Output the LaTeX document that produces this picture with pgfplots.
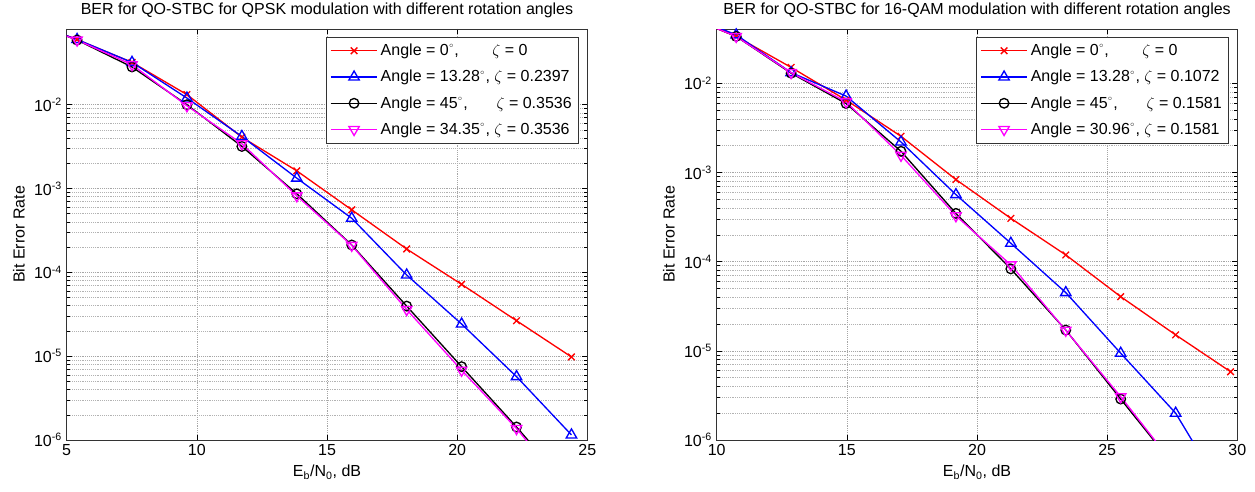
\documentclass[border=0pt]{standalone}
\usepackage{pgfplots}
\pgfplotsset{compat=1.18}
\usepackage{fontspec}
\setmainfont{Liberation Sans}

\pgfplotstableread{
x      red      blue     black    pink
3.29   0.105    0.105    0.105    0.105
5.40   0.0598   0.0600   0.0590   0.0590
7.51   0.0320   0.0320   0.0282   0.0300
9.62   0.0132   0.0120   0.0100   0.0097
11.73  0.0041   0.00418  0.00318  0.00342
13.84  0.001625 0.00133  0.000865 0.000818
15.95  0.000557 0.000442 0.000212 0.000210
18.06  0.00019  9.3e-5   3.96e-5  3.6e-5
20.17  7.2e-5   2.42e-5  7.5e-6   6.8e-6
22.28  2.65e-5  5.7e-6   1.43e-6  1.37e-6
24.39  9.8e-6   1.15e-6  2.5e-7   2.2e-7
}\qpsk

\pgfplotstableread{
x      red      blue     black    pink
8.64   0.060    0.062    0.060    0.060
10.75  0.0336   0.0350   0.0336   0.0336
12.86  0.0151   0.0132   0.0130   0.0132
14.97  0.0065   0.0072   0.00594  0.0062
17.08  0.00255  0.0022   0.00173  0.00156
19.19  0.000834 0.000565 0.000348 0.000327
21.30  0.000306 0.000161 8.3e-5   9.2e-5
23.41  1.19e-4  4.5e-5   1.71e-5  1.7e-5
25.52  4.05e-5  9.4e-6   2.88e-6  3.06e-6
27.63  1.51e-5  2.0e-6   4.9e-7   5.0e-7
29.74  5.83e-6  1.9e-7   8e-8     8e-8
}\qam

\definecolor{mred}{rgb}{1,0,0}
\definecolor{mblue}{rgb}{0,0,1}
\definecolor{mmag}{rgb}{1,0,1}

\newcommand{\dg}{\textsuperscript{\raisebox{0.35ex}{$\scriptscriptstyle\circ$}}}

\pgfplotsset{
  legend image code/.code={\draw[mark repeat=2,mark phase=2,#1,line width=1pt] plot coordinates {(0pt,0pt)(17.5pt,0pt)(35pt,0pt)};},
  every axis/.append style={
    scale only axis, width=390.5pt, height=308.25pt,
    xmajorgrids, ymajorgrids, yminorgrids,
    major grid style={densely dotted, black!35, line width=0.4pt},
    minor grid style={densely dotted, black!30, line width=0.4pt},
    tick align=inside, xtick pos=both, ytick pos=both,
    xticklabel pos=lower, yticklabel pos=left,
    major tick length=4pt, minor tick length=2.2pt,
    every tick/.style={black, line width=0.4pt},
    axis line style={black!80, line width=0.6pt},
    tick label style={font=\fontsize{12}{14}\selectfont},
    label style={font=\fontsize{12}{14}\selectfont},
    title style={font=\fontsize{12}{14}\selectfont, yshift=-1pt},
    legend style={at={(1,1)}, xshift=-6.5pt, yshift=-6pt, anchor=north east, draw=black!80,
      font=\fontsize{12}{14}\selectfont, cells={anchor=west}, row sep=5.5pt,
      inner sep=3pt},
  },
  every axis plot/.append style={line width=1pt},
}

\begin{document}
\begin{tikzpicture}
\useasboundingbox (0,0) rectangle (941.25pt,369pt);
\begin{axis}[at={(50pt,39pt)}, anchor=south west,
  ymode=log, ymin=1e-6, ymax=0.08, xmin=5, xmax=25,
  ytick={1e-6,1e-5,1e-4,1e-3,1e-2},
  yticklabels={10\textsuperscript{-6},10\textsuperscript{-5},10\textsuperscript{-4},10\textsuperscript{-3},10\textsuperscript{-2}},
  xtick={5,10,15,20,25}, xticklabels={5,10,15,20,25},
  xlabel={E\textsubscript{b}/N\textsubscript{0}, dB},
  ylabel={Bit Error Rate},
  title={BER for QO-STBC for QPSK modulation with different rotation angles}]
\addplot[mred, mark=x, mark size=3.5pt, mark options={solid}] table[x=x,y=red] {\qpsk};
\addlegendentry{Angle = 0\dg,\hspace{2.1em}$\zeta$ = 0}
\addplot[mblue, mark=triangle, mark size=4.5pt, mark options={solid}] table[x=x,y=blue] {\qpsk};
\addlegendentry{Angle = 13.28\dg, $\zeta$ = 0.2397}
\addplot[black, mark=o, mark size=3.6pt, mark options={solid}] table[x=x,y=black] {\qpsk};
\addlegendentry{Angle = 45\dg,\hspace{1.8em}$\zeta$ = 0.3536}
\addplot[mmag, mark=triangle, mark size=4.5pt, mark options={solid, rotate=180}] table[x=x,y=pink] {\qpsk};
\addlegendentry{Angle = 34.35\dg, $\zeta$ = 0.3536}
\end{axis}
\begin{axis}[at={(537.5pt,39pt)}, anchor=south west,
  ymode=log, ymin=1e-6, ymax=0.0407, xmin=10, xmax=30,
  ytick={1e-6,1e-5,1e-4,1e-3,1e-2},
  yticklabels={10\textsuperscript{-6},10\textsuperscript{-5},10\textsuperscript{-4},10\textsuperscript{-3},10\textsuperscript{-2}},
  xtick={10,15,20,25,30}, xticklabels={10,15,20,25,30},
  xlabel={E\textsubscript{b}/N\textsubscript{0}, dB},
  ylabel={Bit Error Rate},
  title={BER for QO-STBC for 16-QAM modulation with different rotation angles}]
\addplot[mred, mark=x, mark size=3.5pt, mark options={solid}] table[x=x,y=red] {\qam};
\addlegendentry{Angle = 0\dg,\hspace{2.1em}$\zeta$ = 0}
\addplot[mblue, mark=triangle, mark size=4.5pt, mark options={solid}] table[x=x,y=blue] {\qam};
\addlegendentry{Angle = 13.28\dg, $\zeta$ = 0.1072}
\addplot[black, mark=o, mark size=3.6pt, mark options={solid}] table[x=x,y=black] {\qam};
\addlegendentry{Angle = 45\dg,\hspace{1.8em}$\zeta$ = 0.1581}
\addplot[mmag, mark=triangle, mark size=4.5pt, mark options={solid, rotate=180}] table[x=x,y=pink] {\qam};
\addlegendentry{Angle = 30.96\dg, $\zeta$ = 0.1581}
\end{axis}
\end{tikzpicture}
\end{document}
